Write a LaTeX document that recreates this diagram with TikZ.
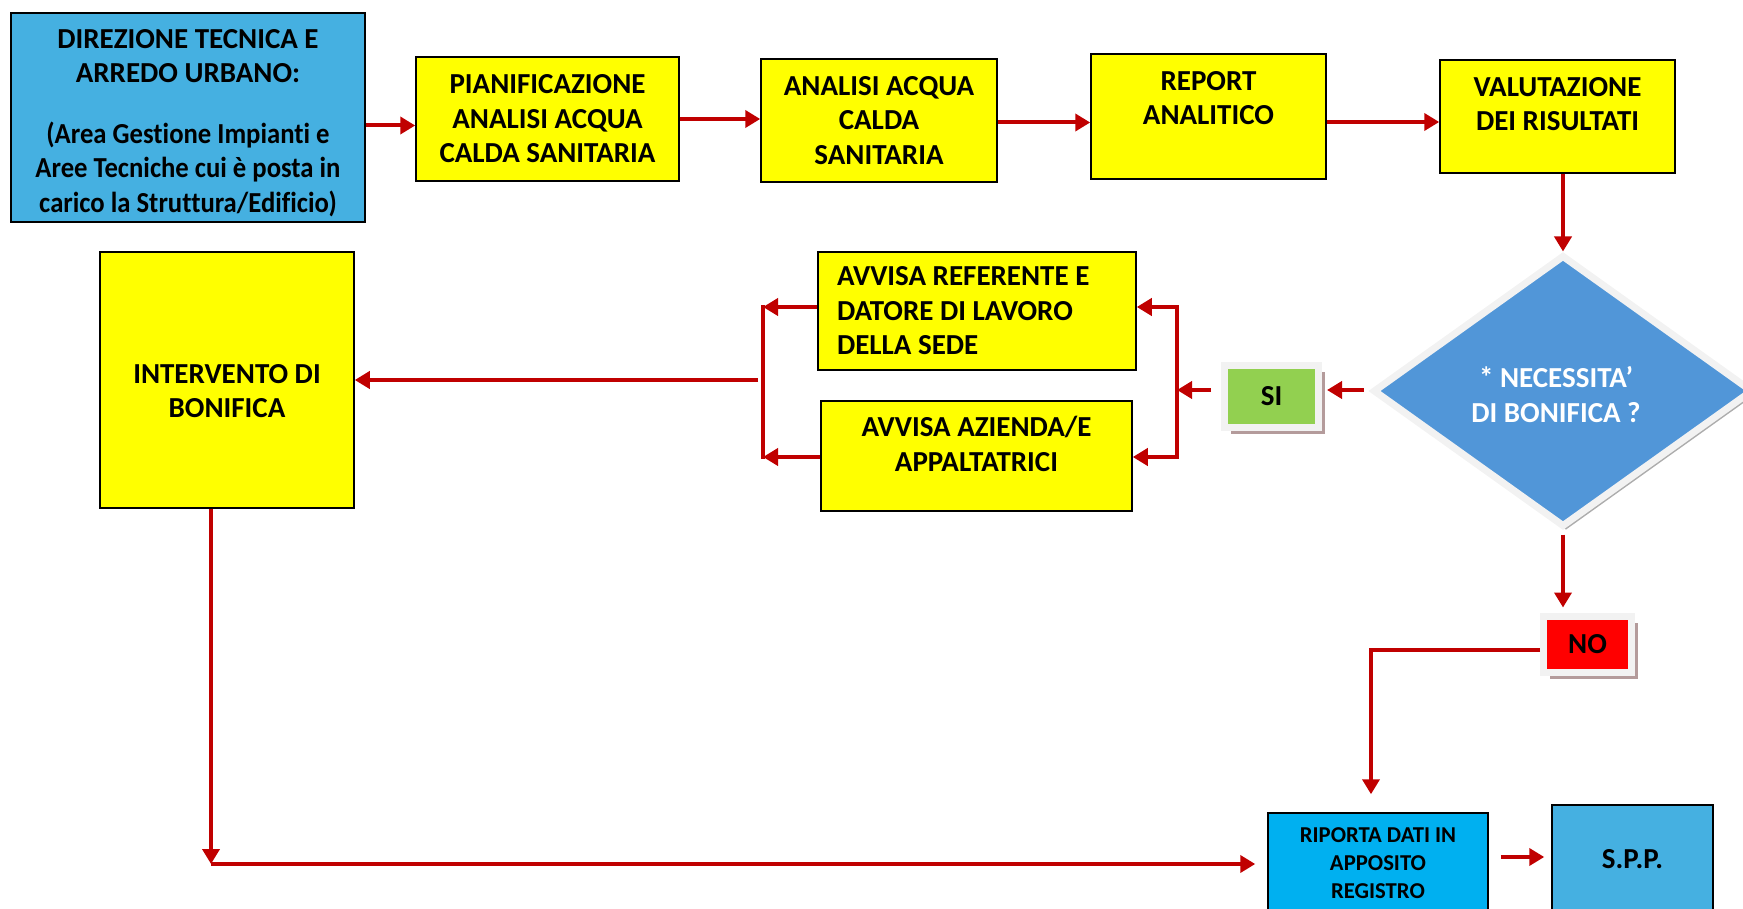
\documentclass[tikz,border=0pt]{standalone}
\usepackage{fontspec}
\setmainfont{Carlito}
\newfontfamily\narrowfont{Carlito}[FakeStretch=0.92,Ligatures=NoCommon]
\usetikzlibrary{arrows.meta}
\usetikzlibrary{shapes.geometric}
\usetikzlibrary{shadows}
\usetikzlibrary{calc}
\usetikzlibrary{positioning}

\definecolor{boxyellow}{RGB}{255,255,0}
\definecolor{dirblue}{RGB}{69,176,225}
\definecolor{regblue}{RGB}{0,176,240}
\definecolor{diablue}{RGB}{81,150,216}
\definecolor{sigreen}{RGB}{146,208,80}
\definecolor{nored}{RGB}{255,0,0}
\definecolor{arrred}{RGB}{192,0,0}
\definecolor{framegray}{RGB}{242,242,242}
\definecolor{shadowrose}{RGB}{180,155,155}

\begin{document}
\begin{tikzpicture}[x=1pt,y=-1pt,font=\fontsize{29}{34.5}\selectfont\bfseries]
	\useasboundingbox (0,0) rectangle (1743,909);

	\begin{scope}[every node/.style={rectangle, draw=black, line width=1.5pt, fill=boxyellow, align=center, inner sep=0pt}]
		\node[fill=dirblue, minimum width=354pt, minimum height=209pt] (dir) at (188,117.5) {\rule{0pt}{30pt}DIREZIONE TECNICA E\\ARREDO URBANO:\\[26pt]{\narrowfont\bfseries (Area Gestione Impianti e}\\{\narrowfont\bfseries Aree Tecniche cui è posta in}\\{\narrowfont\bfseries carico la Struttura/Edificio)}};
		\node[minimum width=263pt, minimum height=124pt] (pian) at (547.5,119) {PIANIFICAZIONE\\ANALISI ACQUA\\CALDA SANITARIA};
		\node[minimum width=236pt, minimum height=123pt] (anal) at (879,120.5) {ANALISI ACQUA\\CALDA\\SANITARIA};
		\node[minimum width=235pt, minimum height=125pt] (rep) at (1208.5,116.5) {REPORT\\ANALITICO\rule[-37pt]{0pt}{0pt}};
		\node[minimum width=235pt, minimum height=113pt] (val) at (1557.5,116.5) {VALUTAZIONE\\DEI RISULTATI\rule[-25pt]{0pt}{0pt}};
		\node[minimum width=318pt, minimum height=118pt, text width=280pt, inner xsep=19pt, align=flush left] (ref) at (977,311) {AVVISA REFERENTE E\\DATORE DI LAVORO\\DELLA SEDE};
		\node[minimum width=311pt, minimum height=110pt] (az) at (976.5,456) {AVVISA AZIENDA/E\\APPALTATRICI\rule[-24pt]{0pt}{0pt}};
		\node[minimum width=254pt, minimum height=256pt] (interv) at (227,380) {\rule{0pt}{41pt}INTERVENTO DI\\BONIFICA};
		\node[fill=regblue, minimum width=220pt, minimum height=100pt, font=\fontsize{22.7}{28}\selectfont\bfseries] (rip) at (1378,863) {RIPORTA DATI IN\\APPOSITO\\REGISTRO};
		\node[fill=dirblue, minimum width=161pt, minimum height=108pt] (spp) at (1632.5,859) {S.P.P.};
	\end{scope}

	\node[diamond, aspect=1.42, fill=diablue, draw=framegray, line width=7pt, minimum width=380pt, minimum height=272pt, inner sep=0pt, align=center, text=white, drop shadow={shadow xshift=3pt, shadow yshift=-4pt, fill=gray!65, opacity=1}] (dia) at (1563,391) {\rule{0pt}{28pt}* NECESSITA’\kern14pt\\DI BONIFICA ?\kern14pt};

	\begin{scope}[every node/.style={rectangle, draw=framegray, line width=7pt, inner sep=2pt, drop shadow={shadow xshift=6pt, shadow yshift=-7pt, fill=shadowrose, opacity=1}}]
		\node[fill=sigreen, minimum width=94pt, minimum height=62pt] (si) at (1271.5,396) {SI};
		\node[fill=nored, minimum width=88pt, minimum height=56pt] (no) at (1587.5,644) {NO};
	\end{scope}

	\coordinate (rb1) at (1177,307);
	\coordinate (rb2) at (1177,457);
	\coordinate (rbm) at (1177,390);
	\coordinate (lb1) at (763,307);
	\coordinate (lb2) at (763,457);
	\coordinate (lbm) at (758,380);
	\coordinate (nc) at (1371,650);
	\coordinate (ic) at (211,864);

	\begin{scope}[>={Triangle[length=15pt,width=17pt]}, line width=4pt, color=arrred]
		\draw[->] ($(dir.east)+(0,8)$) -- ($(dir.east -| pian.west)+(0,8)$);
		\draw[->] (pian.east) -- (pian.east -| anal.west);
		\draw[->] ($(anal.east)+(0,2)$) -- ($(anal.east -| rep.west)+(0,2)$);
		\draw[->] ($(rep.east)+(0,5.5)$) -- ($(rep.east -| val.west)+(0,5.5)$);
		\draw[->] (dia.north |- val.south) -- (dia.north);
		\draw[->] ($(dia.west)+(-6,-1)$) -- ($(dia.west -| si.east)+(5,-1)$);
		\draw[->] ($(si.west |- rbm)+(-10,0)$) -- (rbm);
		\draw[->] (rbm) |- (rb1 -| ref.east);
		\draw[->] (rbm) |- (rb2 -| az.east);
		% bracket towards the intervention
		\draw[->] (ref.west |- lb1) -- (lb1);
		\draw[->] (az.west |- lb2) -- (lb2);
		\draw[line cap=rect] (lb1) -- (lb2);
		\draw[->] (lbm) -- (lbm -| interv.east);
		\draw[->] ($(dia.south)+(0,4)$) -- ($(dia.south |- no.north)+(0,-5)$);
		\draw[->] ($(no.west |- nc)$) -| ($(rip.north -| nc)+(0,-18)$);
		\draw[->] (interv.south -| ic) -- (ic);
		\draw[->] (ic) -- ($(rip.west |- ic)+(-12,0)$);
		\draw[->] ($(rip.east)+(12,-6)$) -- ($(rip.east -| spp.west)+(-7,-6)$);
	\end{scope}
\end{tikzpicture}
\end{document}
